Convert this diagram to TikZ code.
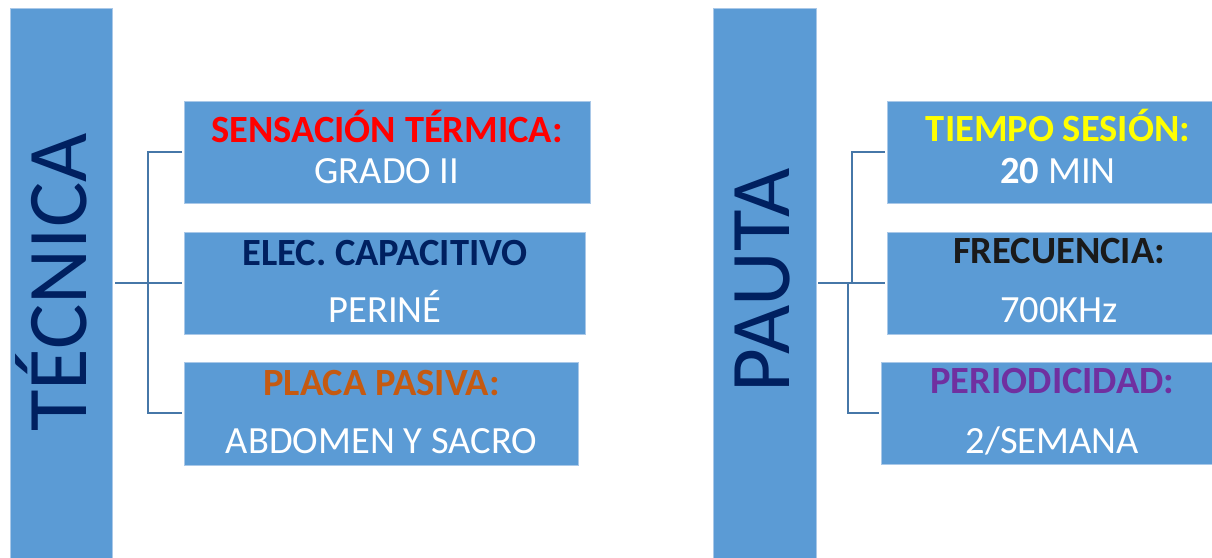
\documentclass[tikz,border=0pt]{standalone}
\usepackage{fontspec}
\setmainfont{Carlito}
\definecolor{boxblue}{HTML}{5B9BD5}
\definecolor{boxedge}{HTML}{A9C8E8}
\definecolor{linkblue}{HTML}{4677A8}
\definecolor{navy}{HTML}{002060}
\definecolor{txtred}{HTML}{FF0000}
\definecolor{txtorange}{HTML}{C55A11}
\definecolor{txtyellow}{HTML}{FFFF00}
\definecolor{txtpurple}{HTML}{7030A0}
\definecolor{txtblack}{HTML}{1A1A1A}
\tikzset{
  panel/.style={fill=boxblue, draw=boxedge, line width=1pt},
  link/.style={draw=linkblue, line width=2pt},
  bigtitle/.style={rotate=90, anchor=base, inner sep=0pt, text=navy, font=\fontsize{85}{90}\selectfont},
  headtxt/.style={anchor=base, inner sep=0pt, font=\fontsize{38.5}{42}\selectfont\bfseries},
  valtxt/.style={anchor=base, inner sep=0pt, text=white, font=\fontsize{38.5}{42}\selectfont},
}
\begin{document}
\begin{tikzpicture}[x=1pt,y=-1pt]
\useasboundingbox (0,0) rectangle (1212,557);
\begin{scope}
\clip (0,0) rectangle (1212,557);
% left column
\path[panel] (10,8) rectangle (112,570);
\path[panel] (184,101) rectangle (590,203);
\path[panel] (184,232) rectangle (585,334);
\path[panel] (184,362) rectangle (578,465);
% right column
\path[panel] (713,8) rectangle (816,570);
\path[panel] (887,101) rectangle (1230,203);
\path[panel] (887,232) rectangle (1230,334);
\path[panel] (881,362) rectangle (1230,464);
\end{scope}

\node[bigtitle] (tec) at (86.5,282.5) {TÉCNICA};
\node[bigtitle] (pau) at (789,280) {PAUTA};

% left box texts
\node[headtxt, text=txtred] (a1) at (387,142) {SENSACIÓN TÉRMICA:};
\node[valtxt] (a2) at (387,183) {GRADO II};
\node[headtxt, text=navy] (b1) at (385,265) {ELEC. CAPACITIVO};
\node[valtxt] (b2) at (385,322.5) {PERINÉ};
\node[headtxt, text=txtorange] (c1) at (381.5,395) {PLACA PASIVA:};
\node[valtxt] (c2) at (381.5,453.5) {ABDOMEN Y SACRO};

% right box texts
\node[headtxt, text=txtyellow] (d1) at (1058,141) {TIEMPO SESIÓN:};
\node[valtxt] (d2) at (1058,183) {\textbf{20} MIN};
\node[headtxt, text=txtblack] (e1) at (1059,263.5) {FRECUENCIA:};
\node[valtxt] (e2) at (1059,322.5) {700KHz};
\node[headtxt, text=txtpurple] (f1) at (1052.5,393) {PERIODICIDAD:};
\node[valtxt] (f2) at (1052.5,453) {2/SEMANA};

% connectors left
\coordinate (lroot) at (115,283);
\coordinate (lj) at (148,283);
\coordinate (lt) at (148,152);
\coordinate (lb) at (148,413);
\coordinate (le1) at (182,152);
\coordinate (le2) at (182,283);
\coordinate (le3) at (182,413);
\draw[link] (lroot) -- (le2);
\draw[link] (le1) -- (lt) -- (lb) -- (le3);

% connectors right
\coordinate (rroot) at (818,283);
\coordinate (rt) at (852,152);
\coordinate (rtj) at (852,283);
\coordinate (rbj) at (848,283);
\coordinate (rb) at (848,413);
\coordinate (re1) at (885,152);
\coordinate (re2) at (885,283);
\coordinate (re3) at (879,413);
\draw[link] (rroot) -- (re2);
\draw[link] (re1) -- (rt) -- (rtj);
\draw[link] (rbj) -- (rb) -- (re3);
\end{tikzpicture}
\end{document}
